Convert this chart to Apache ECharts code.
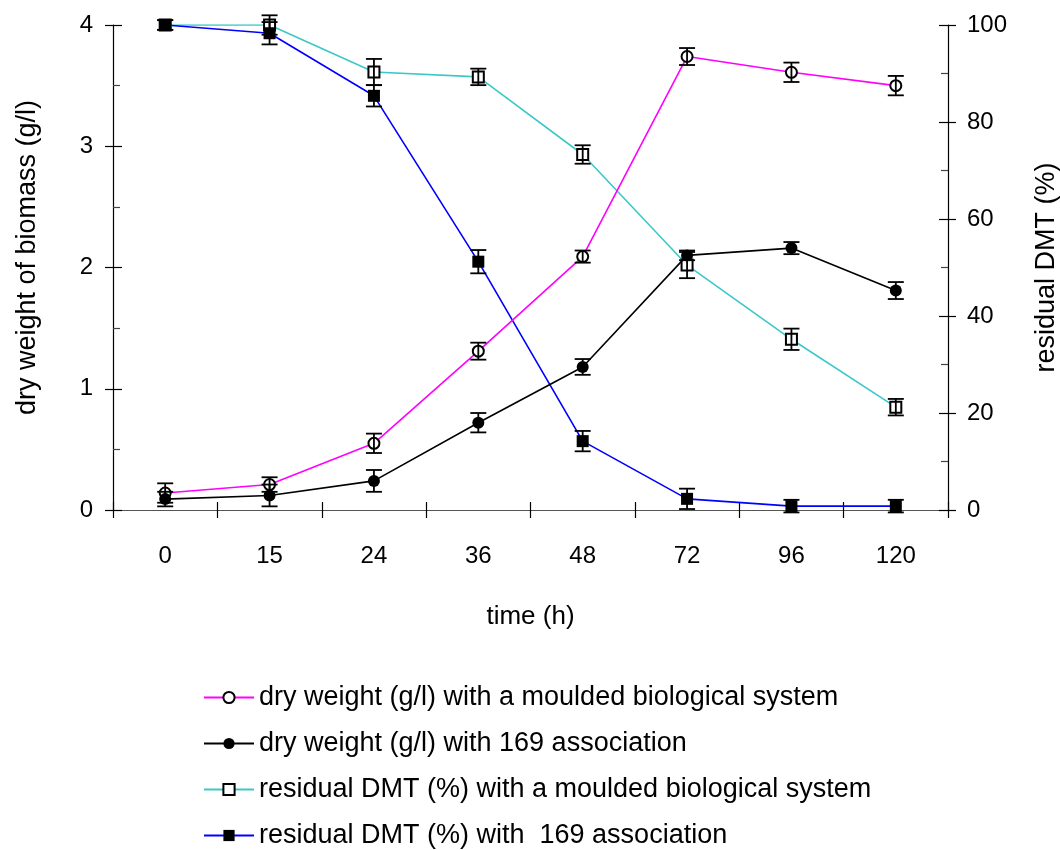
<!DOCTYPE html>
<html>
<head>
<meta charset="utf-8">
<script src="https://cdn.jsdelivr.net/npm/echarts@6/dist/echarts.min.js"></script>
<style>
  html, body { margin: 0; padding: 0; background: #fff; }
  #chart { width: 1060px; height: 850px; }
</style>
</head>
<body>
<div id="chart"></div>
<script>
// time points (h)
var times = ['0', '15', '24', '36', '48', '72', '96', '120'];

// dry weight (g/l), left axis
var dryMoulded = [0.14, 0.21, 0.55, 1.31, 2.09, 3.74, 3.61, 3.50];
var dryMouldedErr = [0.08, 0.06, 0.08, 0.07, 0.05, 0.07, 0.08, 0.08];
var dry169 = [0.09, 0.12, 0.24, 0.72, 1.18, 2.10, 2.16, 1.81];
var dry169Err = [0.06, 0.09, 0.09, 0.08, 0.065, 0.04, 0.05, 0.07];

// residual DMT (%), right axis
var dmtMoulded = [100, 100, 90.3, 89.3, 73.3, 50.5, 35.2, 21.2];
var dmtMouldedErr = [1, 2, 2.7, 1.7, 1.9, 2.7, 2.2, 1.7];
var dmt169 = [100, 98.3, 85.4, 51.2, 14.2, 2.3, 0.8, 0.8];
var dmt169Err = [1, 2.3, 2.2, 2.4, 2.1, 2.1, 1.3, 1.3];

var names = [
    'dry weight (g/l) with a moulded biological system',
    'dry weight (g/l) with 169 association',
    'residual DMT (%) with a moulded biological system',
    'residual DMT (%) with  169 association'
];

var font = "'Liberation Sans', Arial, sans-serif";

function errData(vals, errs) {
    return vals.map(function (v, i) {
        return [i, v - errs[i], v + errs[i]];
    });
}

function renderErr(params, api) {
    var x = api.value(0);
    var lo = api.coord([x, api.value(1)]);
    var hi = api.coord([x, api.value(2)]);
    var w = 8;
    var st = { stroke: '#000', lineWidth: 1.8 };
    return {
        type: 'group',
        children: [
            { type: 'line', shape: { x1: hi[0], y1: hi[1], x2: lo[0], y2: lo[1] }, style: st },
            { type: 'line', shape: { x1: hi[0] - w, y1: hi[1], x2: hi[0] + w, y2: hi[1] }, style: st },
            { type: 'line', shape: { x1: lo[0] - w, y1: lo[1], x2: lo[0] + w, y2: lo[1] }, style: st }
        ]
    };
}

function errSeries(vals, errs, yIdx) {
    return {
        type: 'custom',
        yAxisIndex: yIdx,
        renderItem: renderErr,
        data: errData(vals, errs),
        silent: true,
        z: 5
    };
}

var myChart = echarts.init(document.getElementById('chart'));

var axisLine = { show: true, lineStyle: { color: '#000', width: 1.2 } };
var tickStyle = { color: '#000', width: 1.2 };

var option = {
    animation: false,
    textStyle: { fontFamily: font },
    grid: { left: 113, right: 112, top: 25, bottom: 340, outerBoundsMode: 'none' },
    legend: {
        orient: 'vertical',
        left: 203,
        top: 684,
        width: 800,
        height: 200,
        padding: 0,
        itemWidth: 50,
        itemHeight: 14,
        itemGap: 19,
        selectedMode: false,
        textStyle: { fontSize: 27, color: '#000', fontFamily: font },
        data: names
    },
    xAxis: [{
        type: 'category',
        data: times,
        name: 'time (h)',
        nameLocation: 'middle',
        nameGap: 94,
        nameTextStyle: { fontSize: 26, color: '#000' },
        axisLine: { show: true, lineStyle: { color: '#555', width: 1.2 } },
        axisTick: { show: true, length: 8, lineStyle: tickStyle },
        axisLabel: { fontSize: 24, color: '#000', margin: 34 },
        splitLine: { show: false }
    }, {
        type: 'category',
        data: times,
        position: 'bottom',
        axisLine: { show: false },
        axisTick: { show: true, inside: true, length: 8, lineStyle: tickStyle },
        axisLabel: { show: false },
        splitLine: { show: false }
    }],
    yAxis: [{
        type: 'value',
        min: 0, max: 4, interval: 1,
        position: 'left',
        name: 'dry weight of biomass (g/l)',
        nameLocation: 'middle',
        nameGap: 72,
        nameTextStyle: { fontSize: 27, color: '#000', padding: [0, 0, 0, 20] },
        axisLine: axisLine,
        axisTick: { show: true, length: 8, lineStyle: tickStyle },
        axisLabel: { fontSize: 24, color: '#000', margin: 20 },
        splitLine: { show: false }
    }, {
        type: 'value',
        min: 0, max: 100, interval: 20,
        position: 'right',
        name: 'residual DMT (%)',
        nameLocation: 'middle',
        nameGap: 85,
        nameRotate: 90,
        nameTextStyle: { fontSize: 27, color: '#000' },
        axisLine: axisLine,
        axisTick: { show: true, length: 8, lineStyle: tickStyle },
        axisLabel: { fontSize: 24, color: '#000', margin: 19 },
        splitLine: { show: false }
    }, {
        type: 'value',
        min: 0, max: 4, interval: 1,
        position: 'left',
        axisLine: { show: false },
        axisTick: { show: true, inside: true, length: 9, lineStyle: tickStyle },
        minorTick: { show: true, splitNumber: 2, length: 7, lineStyle: { color: '#444', width: 1.2 } },
        axisLabel: { show: false },
        splitLine: { show: false }
    }, {
        type: 'value',
        min: 0, max: 100, interval: 20,
        position: 'right',
        axisLine: { show: false },
        axisTick: { show: true, inside: true, length: 9, lineStyle: tickStyle },
        minorTick: { show: true, splitNumber: 2, length: 7, lineStyle: { color: '#444', width: 1.2 } },
        axisLabel: { show: false },
        splitLine: { show: false }
    }],
    series: [{
        name: names[2],
        type: 'line',
        yAxisIndex: 1,
        data: dmtMoulded,
        symbol: 'emptyRect',
        symbolSize: 11,
        lineStyle: { color: '#3cc8c8', width: 1.6 },
        itemStyle: { color: '#000', borderColor: '#000', borderWidth: 1.6 },
        z: 2
    }, {
        name: names[3],
        type: 'line',
        yAxisIndex: 1,
        data: dmt169,
        symbol: 'rect',
        symbolSize: 12,
        lineStyle: { color: '#0000ff', width: 1.6 },
        itemStyle: { color: '#000' },
        z: 3
    }, {
        name: names[0],
        type: 'line',
        yAxisIndex: 0,
        data: dryMoulded,
        symbol: 'emptyCircle',
        symbolSize: 11,
        lineStyle: { color: '#ff00ff', width: 1.6 },
        itemStyle: { color: '#000', borderColor: '#000', borderWidth: 1.6 },
        z: 3
    }, {
        name: names[1],
        type: 'line',
        yAxisIndex: 0,
        data: dry169,
        symbol: 'circle',
        symbolSize: 12,
        lineStyle: { color: '#000', width: 1.6 },
        itemStyle: { color: '#000' },
        z: 4
    },
    errSeries(dmtMoulded, dmtMouldedErr, 1),
    errSeries(dmt169, dmt169Err, 1),
    errSeries(dryMoulded, dryMouldedErr, 0),
    errSeries(dry169, dry169Err, 0)
    ]
};

myChart.setOption(option);
</script>
</body>
</html>
